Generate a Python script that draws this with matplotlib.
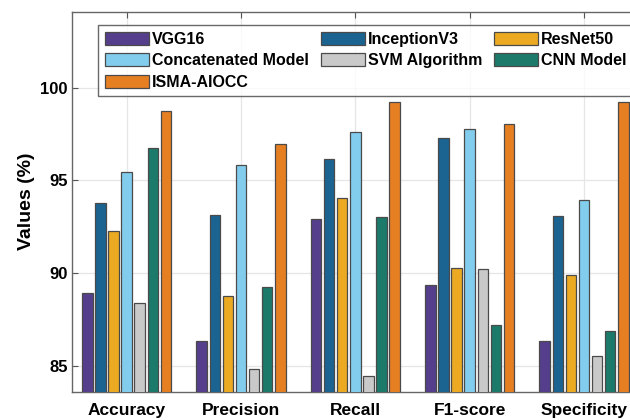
import matplotlib.pyplot as plt
import numpy as np

# metrics and model scores
metrics = ['Accuracy', 'Precision', 'Recall', 'F1-score', 'Specificity']
models = ['VGG16', 'InceptionV3', 'ResNet50', 'Concatenated Model',
          'SVM Algorithm', 'CNN Model', 'ISMA-AIOCC']

vgg16 = [88.93, 86.35, 92.90, 89.36, 86.35]
inception_v3 = [93.79, 93.14, 96.16, 97.30, 93.10]
resnet50 = [92.29, 88.78, 94.06, 90.28, 89.90]
concatenated = [95.46, 95.82, 97.62, 97.75, 93.93]
svm = [88.40, 84.85, 84.42, 90.20, 85.54]
cnn = [96.76, 89.25, 93.01, 87.20, 86.85]
isma_aiocc = [98.72, 96.99, 99.22, 98.02, 99.22]

series = [vgg16, inception_v3, resnet50, concatenated, svm, cnn, isma_aiocc]
colors = ['#553e8c', '#1b6491', '#ebaa22', '#82cdee', '#c9c9c9', '#1b7a69', '#e67f22']

plt.rcParams['font.family'] = ['Liberation Sans', 'DejaVu Sans']
plt.rcParams['font.weight'] = 'bold'

fig = plt.figure(figsize=(6.3, 4.2), dpi=100)
ax = fig.add_axes([0.115, 0.0674, 0.898, 0.9046])

x = np.arange(len(metrics))
pitch = 0.1146
width = 0.092
bars = []
for i, (vals, name, col) in enumerate(zip(series, models, colors)):
    b = ax.bar(x + (i - 3) * pitch, vals, width, color=col, edgecolor='#4a4a4a',
               linewidth=0.9, label=name, zorder=3)
    bars.append(b)

ax.set_xlim(-0.474, len(metrics) - 1 + 0.474)
ax.set_ylim(83.6, 104.1)
ax.set_yticks([85, 90, 95, 100])
ax.set_xticks(x)
ax.set_xticklabels(metrics, fontsize=12.5, fontweight='bold')
ax.tick_params(axis='y', labelsize=12, direction='in', length=4, color='#555555')
ax.tick_params(axis='x', direction='in', length=4, top=True, pad=8, color='#555555')
for lab in ax.get_yticklabels():
    lab.set_fontweight('bold')
ax.set_ylabel('Values (%)', fontsize=14, fontweight='bold', labelpad=4)

ax.grid(True, color='#e6e6e6', linewidth=0.9, zorder=0)
for s in ax.spines.values():
    s.set_color('#666666')
    s.set_linewidth(1.0)

# legend is filled row by row in the reference, matplotlib fills by column
order = [0, 3, 6, 1, 4, 2, 5]
leg = ax.legend([bars[k] for k in order], [models[k] for k in order],
                loc='upper left', bbox_to_anchor=(0.156, 0.940),
                bbox_transform=fig.transFigure, ncol=3, fontsize=11.5,
                frameon=True, fancybox=False, borderaxespad=0,
                handlelength=2.75, handleheight=0.9, handletextpad=0.2,
                columnspacing=0.75, labelspacing=0.4, borderpad=0.4)
leg.get_frame().set_edgecolor('#444444')
leg.get_frame().set_linewidth(1.0)
for t in leg.get_texts():
    t.set_fontweight('bold')

plt.savefig('out.png', dpi=100, facecolor='white')
